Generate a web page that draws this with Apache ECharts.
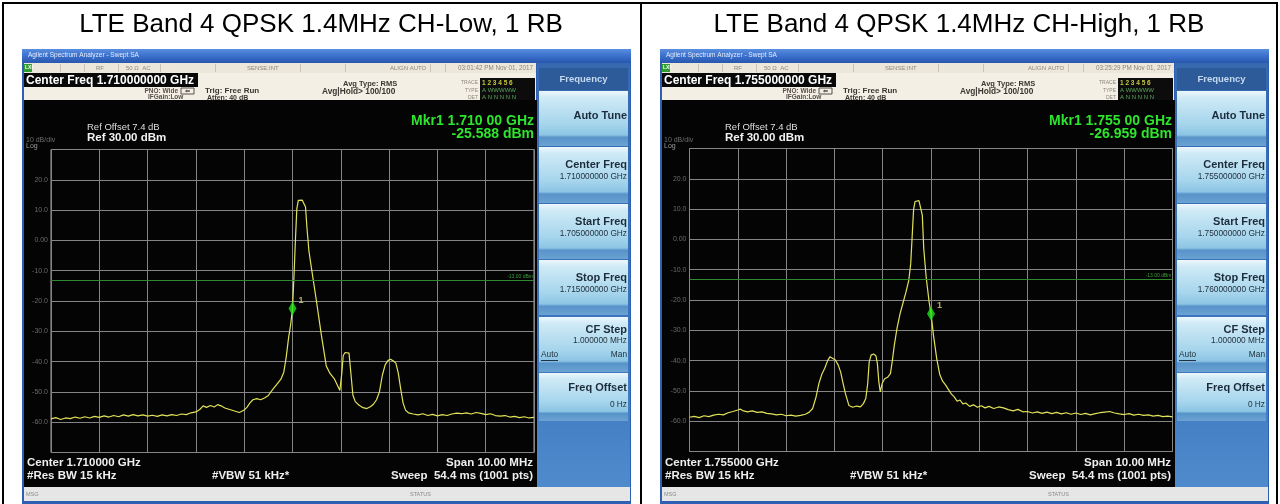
<!DOCTYPE html>
<html>
<head>
<meta charset="utf-8">
<script src="https://cdn.jsdelivr.net/npm/echarts@6/dist/echarts.min.js"></script>
<style>html,body{margin:0;padding:0;background:#fff}#c{width:1280px;height:504px}</style>
</head>
<body>
<div id="c"></div>
<script>
// ---------------- DATA ----------------
const panelTitles = ['LTE Band 4 QPSK 1.4MHz CH-Low, 1 RB', 'LTE Band 4 QPSK 1.4MHz CH-High, 1 RB'];
const freqMin = [1705, 1750];
const freqMax = [1715, 1760];

const lowFreq = [1705.00,1705.10,1705.20,1705.30,1705.40,1705.50,1705.60,1705.70,1705.80,1705.90,
  1706.00,1706.10,1706.20,1706.30,1706.40,1706.50,1706.60,1706.70,1706.80,1706.90,
  1707.00,1707.10,1707.20,1707.30,1707.40,1707.50,1707.60,1707.70,1707.80,1707.90,
  1708.00,1708.08,1708.15,1708.22,1708.30,1708.38,1708.45,1708.52,1708.60,1708.70,
  1708.80,1708.90,1709.00,1709.06,1709.12,1709.18,1709.26,1709.34,1709.42,1709.50,
  1709.56,1709.62,1709.70,1709.76,1709.82,1709.87,1709.92,1709.96,1710.00,1710.03,
  1710.06,1710.09,1710.12,1710.16,1710.20,1710.24,1710.27,1710.30,1710.34,1710.40,
  1710.50,1710.60,1710.70,1710.78,1710.86,1710.93,1710.98,1711.02,1711.05,1711.09,
  1711.13,1711.17,1711.21,1711.25,1711.30,1711.38,1711.46,1711.54,1711.62,1711.68,
  1711.74,1711.80,1711.86,1711.92,1711.98,1712.03,1712.09,1712.14,1712.19,1712.24,
  1712.29,1712.34,1712.40,1712.50,1712.60,1712.70,1712.80,1712.90,1713.00,1713.10,
  1713.20,1713.30,1713.40,1713.50,1713.60,1713.70,1713.80,1713.90,1714.00,1714.10,
  1714.20,1714.30,1714.40,1714.50,1714.60,1714.70,1714.80,1714.90,1715.00];
const lowLevel = [-58.9,-58.5,-59.1,-58.6,-58.8,-58.3,-58.7,-58.2,-58.6,-58.1,
  -58.4,-57.9,-58.3,-57.8,-58.2,-57.6,-58.0,-57.5,-57.9,-57.6,
  -58.0,-57.7,-58.1,-57.6,-57.9,-57.5,-57.8,-57.3,-57.5,-56.9,
  -56.6,-55.8,-54.6,-55.1,-54.5,-55.0,-54.2,-54.6,-55.3,-55.8,
  -56.3,-56.8,-56.0,-55.0,-53.6,-52.6,-52.2,-52.6,-52.0,-51.2,
  -49.8,-48.6,-47.0,-45.8,-43.5,-38.5,-32.0,-28.0,-22.5,-12.0,
  0.0,10.5,13.2,12.6,13.3,12.9,11.0,4.0,-3.5,-10.0,
  -20.5,-31.5,-41.5,-44.0,-45.5,-47.8,-49.5,-44.0,-38.0,-37.0,
  -37.6,-37.2,-44.0,-51.0,-53.2,-54.4,-55.2,-55.5,-54.8,-54.0,
  -52.6,-50.0,-44.5,-41.0,-39.6,-39.2,-39.8,-40.5,-43.8,-49.0,
  -53.7,-56.0,-56.9,-57.3,-57.6,-57.2,-57.8,-57.4,-57.9,-57.5,
  -57.8,-57.3,-57.0,-57.2,-56.9,-57.3,-56.8,-57.1,-57.5,-57.2,
  -57.8,-58.0,-57.8,-58.3,-58.1,-58.5,-58.2,-58.6,-58.4];

const highFreq = [1750.00,1750.10,1750.20,1750.30,1750.40,1750.50,1750.60,1750.70,1750.80,1750.90,
  1751.00,1751.05,1751.10,1751.20,1751.30,1751.40,1751.50,1751.60,1751.70,1751.80,
  1751.90,1752.00,1752.10,1752.20,1752.30,1752.40,1752.48,1752.55,1752.62,1752.68,
  1752.74,1752.80,1752.86,1752.91,1752.96,1753.02,1753.08,1753.13,1753.18,1753.23,
  1753.30,1753.38,1753.46,1753.54,1753.60,1753.65,1753.69,1753.72,1753.76,1753.81,
  1753.86,1753.89,1753.92,1753.95,1753.99,1754.04,1754.10,1754.16,1754.20,1754.24,
  1754.30,1754.36,1754.42,1754.48,1754.54,1754.58,1754.61,1754.64,1754.67,1754.71,
  1754.75,1754.79,1754.82,1754.85,1754.90,1754.96,1755.00,1755.05,1755.12,1755.18,
  1755.24,1755.30,1755.36,1755.42,1755.48,1755.54,1755.60,1755.66,1755.72,1755.80,
  1755.88,1755.96,1756.04,1756.12,1756.20,1756.30,1756.40,1756.50,1756.60,1756.70,
  1756.80,1756.90,1757.00,1757.10,1757.20,1757.30,1757.40,1757.50,1757.60,1757.70,
  1757.80,1757.90,1758.00,1758.10,1758.20,1758.30,1758.40,1758.50,1758.60,1758.70,
  1758.80,1758.90,1759.00,1759.10,1759.20,1759.30,1759.40,1759.50,1759.60,1759.70,
  1759.80,1759.90,1760.00];
const highLevel = [-58.7,-58.4,-58.8,-58.2,-58.5,-58.0,-57.7,-57.9,-57.2,-56.8,
  -56.3,-56.0,-56.5,-56.9,-56.6,-57.1,-56.9,-57.4,-57.6,-57.9,
  -57.7,-58.2,-58.0,-58.3,-58.1,-57.7,-57.0,-55.8,-52.0,-47.5,
  -44.5,-42.5,-40.0,-38.7,-39.2,-39.8,-41.5,-43.8,-47.5,-51.0,
  -54.8,-55.4,-55.0,-55.3,-54.2,-52.5,-47.5,-40.5,-38.2,-37.8,
  -38.4,-41.0,-47.0,-50.3,-47.5,-46.0,-45.5,-44.3,-40.0,-35.0,
  -29.0,-24.5,-21.0,-17.5,-13.5,-8.0,1.0,10.0,12.5,12.0,
  12.8,12.3,8.0,-3.0,-12.5,-20.5,-24.5,-31.5,-39.5,-44.5,
  -46.8,-48.0,-49.5,-51.0,-52.0,-53.4,-53.0,-54.3,-54.0,-55.1,
  -54.6,-55.4,-54.9,-55.6,-55.1,-55.8,-55.3,-55.6,-56.2,-56.6,
  -56.1,-56.9,-56.8,-57.3,-56.9,-57.4,-57.0,-57.5,-57.1,-57.6,
  -57.2,-57.7,-57.3,-57.8,-57.4,-57.9,-57.5,-57.2,-57.0,-56.8,
  -57.3,-57.6,-57.8,-57.5,-58.0,-57.7,-58.1,-57.9,-58.3,-58.1,
  -58.5,-58.3,-58.6];

const markerPoints = [[1710.00, -22.5], [1755.00, -24.5]];
const displayLineLevel = -13;
const yTickValues = [20, 10, 0, -10, -20, -30, -40, -50, -60];
const yTickLabels = ['20.0', '10.0', '0.00', '-10.0', '-20.0', '-30.0', '-40.0', '-50.0', '-60.0'];

const centerFreqLabels = ['Center Freq 1.710000000 GHz', 'Center Freq 1.755000000 GHz'];
const timeStamps = ['03:01:42 PM Nov 01, 2017', '03:25:29 PM Nov 01, 2017'];
const markerFreqLabels = ['Mkr1 1.710 00 GHz', 'Mkr1 1.755 00 GHz'];
const markerLevelLabels = ['-25.588 dBm', '-26.959 dBm'];
const bottomCenterLabels = ['Center 1.710000 GHz', 'Center 1.755000 GHz'];
const softCenterValues = ['1.710000000 GHz', '1.755000000 GHz'];
const softStartValues = ['1.705000000 GHz', '1.750000000 GHz'];
const softStopValues = ['1.715000000 GHz', '1.760000000 GHz'];

// ---------------- LAYOUT ----------------
const chromeDx = [0, 638];
const gridLeft = [51, 689.5];
const gridTop = [149.5, 148.5];
const FONT = '"Liberation Sans", Arial, sans-serif';

function R(x, y, w, h, fill, z, extra) {
  return { type: 'rect', silent: true, z: z === undefined ? -5 : z,
    shape: { x: x, y: y, width: w, height: h }, style: Object.assign({ fill: fill }, extra || {}) };
}
function T(x, y, text, size, fill, align, weight, z) {
  return { type: 'text', silent: true, z: z === undefined ? 20 : z, x: x, y: y,
    style: { text: text, fill: fill, font: (weight || 'normal') + ' ' + size + 'px ' + FONT,
      textAlign: align || 'left', align: align || 'left', textVerticalAlign: 'middle', verticalAlign: 'middle' } };
}
function L(x1, y1, x2, y2, color, w, z) {
  return { type: 'line', silent: true, z: z === undefined ? -4 : z,
    shape: { x1: x1, y1: y1, x2: x2, y2: y2 }, style: { stroke: color, lineWidth: w || 1 } };
}

function grad(stops) {
  return new echarts.graphic.LinearGradient(0, 0, 0, 1, stops.map(function (s) { return { offset: s[0], color: s[1] }; }));
}

const els = [];
// table borders and titles
els.push(R(0, 0, 1280, 504, '#ffffff', -20));
els.push(R(2, 2, 1276, 2, '#000000', 30));
els.push(R(2, 2, 2, 502, '#000000', 30));
els.push(R(640, 2, 2, 502, '#000000', 30));
els.push(R(1276, 2, 2, 502, '#000000', 30));
els.push(T(321, 25, panelTitles[0], 26, '#000000', 'center'));
els.push(T(959, 25, panelTitles[1], 26, '#000000', 'center'));

function panel(p) {
  const d = chromeDx[p];
  const X = function (v) { return v + d; };
  // frame
  els.push(R(X(22), 49, 609, 455, '#2d60b2', -15));
  els.push(R(X(22), 49, 609, 14, '#2d60b2', -14, { fill: grad([[0, '#5a8ee0'], [0.5, '#3b70cc'], [1, '#2857ad']]) }));
  els.push(T(X(28), 55.5, 'Agilent Spectrum Analyzer - Swept SA', 6.5, '#e4ecfa', 'left'));
  // status row
  els.push(R(X(24), 63, 512, 10, '#ebe7da', -13));
  els.push(R(X(24), 64, 8, 8, '#2f9c2f', -12));
  els.push(T(X(25), 68, 'LXI', 5, '#ffffff', 'left', 'bold'));
  [60, 84, 118, 160, 215, 300, 345, 430, 445].forEach(function (sx) { els.push(L(X(sx) + 0.5, 64, X(sx) + 0.5, 72, '#c9c4b6', 1, -12)); });
  els.push(T(X(96), 68, 'RF', 6, '#8c877a', 'left'));
  els.push(T(X(126), 68, '50 Ω  AC', 6, '#8c877a', 'left'));
  els.push(T(X(247), 68, 'SENSE:INT', 6, '#8c877a', 'left'));
  els.push(T(X(390), 68, 'ALIGN AUTO', 6, '#8c877a', 'left'));
  els.push(T(X(533), 68, timeStamps[p], 6.3, '#8c877a', 'right'));
  // beige settings area
  els.push(R(X(24), 73, 512, 27, '#f4efe5', -13));
  els.push(R(X(24), 73, 174, 14, '#080808', -12));
  els.push(T(X(26), 80.5, centerFreqLabels[p], 12, '#ffffff', 'left', 'bold'));
  els.push(T(X(178), 91, 'PNO: Wide', 6.5, '#555048', 'right', 'bold'));
  els.push(R(X(181), 88, 13, 6, 'none', -11, { stroke: '#555048', lineWidth: 1 }));
  els.push(T(X(187.5), 91, '⇐', 6, '#555048', 'center', 'bold'));
  els.push(T(X(148), 97.5, 'IFGain:Low', 6.5, '#555048', 'left', 'bold'));
  els.push(T(X(205), 91, 'Trig: Free Run', 8, '#3a3630', 'left', 'bold'));
  els.push(T(X(207), 98, 'Atten: 40 dB', 7, '#3a3630', 'left', 'bold'));
  els.push(T(X(343), 83.5, 'Avg Type: RMS', 7.5, '#3a3630', 'left', 'bold'));
  els.push(T(X(322), 91.5, 'Avg|Hold> 100/100', 8.3, '#3a3630', 'left', 'bold'));
  els.push(T(X(478), 83, 'TRACE', 5, '#8c877a', 'right'));
  els.push(T(X(478), 90.5, 'TYPE', 5, '#8c877a', 'right'));
  els.push(T(X(478), 97.5, 'DET', 5, '#8c877a', 'right'));
  els.push(R(X(480), 78, 55, 22, '#0c0c0c', -12));
  els.push(T(X(482), 83, '1 2 3 4 5 6', 6.5, '#c8c840', 'left', 'bold'));
  els.push(T(X(482), 90.5, 'A WWWWW', 6, '#5aa85a', 'left'));
  els.push(T(X(482), 97.5, 'A N N N N N', 6, '#5aa85a', 'left'));
  // black display
  els.push(R(X(24), 100, 513, 387, '#040404', -13));
  els.push(T(X(87), 127.5, 'Ref Offset 7.4 dB', 9.5, '#dedede', 'left'));
  els.push(T(X(87), 138, 'Ref 30.00 dBm', 11.5, '#f2f2f2', 'left', 'bold'));
  els.push(T(X(26), 140, '10 dB/div', 7, '#6e6e6e', 'left'));
  els.push(T(X(26), 146.5, 'Log', 7, '#9a9a9a', 'left'));
  els.push(T(X(534), 121, markerFreqLabels[p], 14, '#2ee52e', 'right', 'bold'));
  els.push(T(X(534), 134.5, markerLevelLabels[p], 14, '#2ee52e', 'right', 'bold'));
  els.push(T(X(27), 463, bottomCenterLabels[p], 11.5, '#eeeeee', 'left', 'bold'));
  els.push(T(X(27), 475.5, '#Res BW 15 kHz', 11.5, '#eeeeee', 'left', 'bold'));
  els.push(T(X(212), 475.5, '#VBW 51 kHz*', 11.5, '#eeeeee', 'left', 'bold'));
  els.push(T(X(533), 463, 'Span 10.00 MHz', 11.5, '#eeeeee', 'right', 'bold'));
  els.push(T(X(533), 475.5, 'Sweep  54.4 ms (1001 pts)', 11.5, '#eeeeee', 'right', 'bold'));
  // soft key panel
  els.push(R(X(537), 63, 93, 424, '#3b73bb', -13, { fill: grad([[0, '#3769b0'], [0.7, '#3c76be'], [1, '#4f8bcc']]) }));
  els.push(R(X(539), 68, 89, 22, '#2d5b99', -12));
  els.push(T(X(583.5), 79, 'Frequency', 9.5, '#c6d9ef', 'center', 'bold'));
  const keyGrad = [[0, '#eef8fc'], [0.12, '#cfeaf6'], [0.6, '#a6d5ec'], [0.8, '#8cc5e4'], [0.84, '#5893c9'], [1, '#6aa3d3']];
  const keys = [
    [91, 146, 'Auto Tune', null],
    [147, 203, 'Center Freq', softCenterValues[p]],
    [204, 259, 'Start Freq', softStartValues[p]],
    [260, 315, 'Stop Freq', softStopValues[p]],
    [317, 372, 'CF Step', '1.000000 MHz'],
    [373, 421, 'Freq Offset', '0 Hz']
  ];
  keys.forEach(function (k, i) {
    els.push(R(X(539), k[0], 89, k[1] - k[0], '#a6d5ec', -12, { fill: grad(keyGrad) }));
    if (i === 0) {
      els.push(T(X(627), k[0] + 25, k[2], 11, '#1c2c3c', 'right', 'bold'));
    } else if (i === 4) {
      els.push(T(X(627), k[0] + 13, k[2], 11, '#1c2c3c', 'right', 'bold'));
      els.push(T(X(627), k[0] + 24, k[3], 8.3, '#22323f', 'right'));
      els.push(T(X(541), k[0] + 38, 'Auto', 8.3, '#22323f', 'left'));
      els.push(L(X(541), k[0] + 43.5, X(558), k[0] + 43.5, '#22323f', 1, -10));
      els.push(T(X(627), k[0] + 38, 'Man', 8.3, '#22323f', 'right'));
    } else if (i === 5) {
      els.push(T(X(627), k[0] + 15, k[2], 11, '#1c2c3c', 'right', 'bold'));
      els.push(T(X(627), k[0] + 32, k[3], 8.3, '#22323f', 'right'));
    } else {
      els.push(T(X(627), k[0] + 18, k[2], 11, '#1c2c3c', 'right', 'bold'));
      els.push(T(X(627), k[0] + 30, k[3], 8.3, '#22323f', 'right'));
    }
  });
  // bottom status bar
  els.push(R(X(24), 487, 606, 14, '#e6e6e6', -12));
  els.push(T(X(26), 494, 'MSG', 5.5, '#8a8a8a', 'left'));
  els.push(T(X(410), 494, 'STATUS', 5.5, '#8a8a8a', 'left'));
}
panel(0);
panel(1);

// ---------------- CHART ----------------
function yLabel(v) { const i = yTickValues.indexOf(v); return i >= 0 ? yTickLabels[i] : ''; }

const grids = [0, 1].map(function (p) {
  return { left: gridLeft[p], top: gridTop[p], width: 483, height: 303, show: true,
    borderColor: '#a4a4a4', borderWidth: 1, backgroundColor: 'transparent', containLabel: false };
});
const xAxes = [0, 1].map(function (p) {
  return { type: 'value', gridIndex: p, min: freqMin[p], max: freqMax[p], interval: 1,
    axisLine: { show: false }, axisTick: { show: false }, axisLabel: { show: false },
    splitLine: { show: true, lineStyle: { color: '#858585', width: 1 } } };
});
const yAxes = [0, 1].map(function (p) {
  return { type: 'value', gridIndex: p, min: -70, max: 30, interval: 10,
    axisLine: { show: false }, axisTick: { show: false },
    axisLabel: { show: true, formatter: yLabel, color: '#6a6a6a', fontSize: 7, fontFamily: FONT, margin: 3 },
    splitLine: { show: true, lineStyle: { color: '#858585', width: 1 } } };
});
const traces = [[lowFreq, lowLevel], [highFreq, highLevel]];
const series = [];
[0, 1].forEach(function (p) {
  series.push({ type: 'line', xAxisIndex: p, yAxisIndex: p, showSymbol: false, silent: true,
    data: traces[p][0].map(function (f, i) { return [f, traces[p][1][i]]; }),
    lineStyle: { color: '#e2e25a', width: 1.2 }, z: 3,
    markLine: { silent: true, symbol: 'none', animation: false,
      lineStyle: { color: '#2f8a2f', width: 1, type: 'solid' },
      label: { show: true, position: 'insideEndTop', formatter: '-13.00 dBm', color: '#3aa03a', fontSize: 5, distance: 1 },
      data: [{ yAxis: displayLineLevel }] } });
  series.push({ type: 'scatter', xAxisIndex: p, yAxisIndex: p, silent: true, z: 5,
    data: [markerPoints[p]], symbol: 'diamond', symbolSize: [8, 14],
    itemStyle: { color: '#1fe51f' },
    label: { show: true, formatter: '1', position: 'right', offset: [0, -8], distance: 2, color: '#d6d68a', fontSize: 9, fontWeight: 'bold' } });
});

const chart = echarts.init(document.getElementById('c'), null, { renderer: 'canvas', width: 1280, height: 504 });
chart.setOption({
  animation: false,
  backgroundColor: '#ffffff',
  grid: grids, xAxis: xAxes, yAxis: yAxes, series: series,
  graphic: { elements: els }
});
</script>
</body>
</html>
